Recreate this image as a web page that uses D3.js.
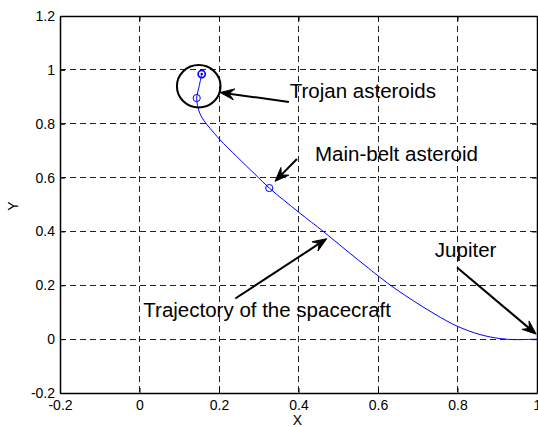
<!DOCTYPE html>
<html><head><meta charset="utf-8">
<script src="https://cdn.jsdelivr.net/npm/d3@7"></script>
<style>body{margin:0;background:#fff}svg{display:block}text{font-family:"Liberation Sans",Arial,sans-serif}</style>
</head><body><svg id="c" width="538" height="427"></svg>
<script>
const xTicks = [-0.2, 0, 0.2, 0.4, 0.6, 0.8, 1];
const yTicks = [-0.2, 0, 0.2, 0.4, 0.6, 0.8, 1, 1.2];
const xTickLabels = ["-0.2","0","0.2","0.4","0.6","0.8","1"];
const yTickLabels = ["-0.2","0","0.2","0.4","0.6","0.8","1","1.2"];
// trajectory
const trajX = [0.1565,0.1504,0.1439,0.1462,0.1522,0.1623,0.1774,0.2025,0.2445,0.2931,0.3265,0.3618,0.4038,0.4624,0.5170,0.5756,0.6050,0.6453,0.6888,0.7434,0.7995,0.8566,0.9069,0.9447,0.9748,1.0000];
const trajY = [0.9844,0.9410,0.8953,0.8667,0.8370,0.8110,0.7831,0.7404,0.6784,0.6086,0.5611,0.5176,0.4675,0.3999,0.3338,0.2640,0.2295,0.1853,0.1426,0.0925,0.0479,0.0171,0.0022,-0.0019,-0.0011,0.0000];
// circle markers
const markX = [0.1565, 0.1439, 0.3265];
const markY = [0.9844, 0.8953, 0.5611];
// big ring around Trojan asteroids (centre)
const ringX = [0.149];
const ringY = [0.939];
// annotation arrows: from -> to
const arrowFromX = [0.376, 0.396, 0.241, 0.799];
const arrowFromY = [0.881, 0.669, 0.151, 0.266];
const arrowToX = [0.203, 0.341, 0.471, 0.998];
const arrowToY = [0.916, 0.586, 0.373, 0.0185];
// annotation texts
const noteText = ["Trojan asteroids", "Main-belt asteroid", "Trajectory of the spacecraft", "Jupiter"];
const noteX = [0.378, 0.4415, 0.0096, 0.743];
const noteY = [0.895, 0.660, 0.083, 0.305];

const W = 538, H = 427;
const m = {l:60, r:1, t:16, b:34};
const svg = d3.select("#c");
const x = d3.scaleLinear().domain([-0.2, 1]).range([m.l, W - m.r]);
const y = d3.scaleLinear().domain([-0.2, 1.2]).range([H - m.b, m.t]);
const L = m.l, R = W - m.r, T = m.t, B = H - m.b;

// grid
const g = svg.append("g");
g.selectAll(".vg").data(xTicks.filter(v => v > -0.2 && v < 1)).enter().append("line")
  .attr("x1", d => x(d)).attr("x2", d => x(d)).attr("y1", T).attr("y2", B)
  .attr("stroke", "#222").attr("stroke-width", 1).attr("stroke-dasharray", "6,4").attr("shape-rendering","crispEdges");
g.selectAll(".hg").data(yTicks.filter(v => v > -0.2 && v < 1.2)).enter().append("line")
  .attr("y1", d => y(d)).attr("y2", d => y(d)).attr("x1", L).attr("x2", R)
  .attr("stroke", "#222").attr("stroke-width", 1).attr("stroke-dasharray", "6,4").attr("shape-rendering","crispEdges");

// axes
const xAxB = d3.axisBottom(x).tickValues(xTicks).tickFormat((d,i) => xTickLabels[i]).tickSizeInner(-5).tickSizeOuter(0).tickPadding(7);
const xAxT = d3.axisTop(x).tickValues(xTicks).tickFormat("").tickSizeInner(-5).tickSizeOuter(0);
const yAxL = d3.axisLeft(y).tickValues(yTicks).tickFormat((d,i) => yTickLabels[i]).tickSizeInner(-5).tickSizeOuter(0).tickPadding(5);
const yAxR = d3.axisRight(y).tickValues(yTicks).tickFormat("").tickSizeInner(-5).tickSizeOuter(0);
function style(sel){
  sel.select(".domain").attr("stroke","#000").attr("stroke-width",1.5);
  sel.selectAll(".tick line").attr("stroke","#000");
  sel.selectAll(".tick text").attr("fill","#000").style("font-size","14px").style("font-family",'"Liberation Sans",Arial,sans-serif');
}
svg.append("g").attr("transform",`translate(0,${B})`).call(xAxB).call(style);
svg.append("g").attr("transform",`translate(0,${T})`).call(xAxT).call(style);
svg.append("g").attr("transform",`translate(${L},0)`).call(yAxL).call(style);
svg.append("g").attr("transform",`translate(${R},0)`).call(yAxR).call(style);

// axis labels
svg.append("text").attr("x", (L+R)/2 - 1).attr("y", 425).attr("text-anchor","middle").style("font-size","14px").text("X");
svg.append("text").attr("transform", `translate(17.5,206) rotate(-90)`).attr("text-anchor","middle").style("font-size","14px").text("Y");

// trajectory
const pts = trajX.map((v,i) => [v, trajY[i]]);
svg.append("path").datum(pts)
  .attr("d", d3.line().x(d => x(d[0])).y(d => y(d[1])).curve(d3.curveCatmullRom.alpha(0.5)))
  .attr("fill","none").attr("stroke","#0000ff").attr("stroke-width",1);
// small blue point at origin
svg.append("circle").attr("cx", x(0)).attr("cy", y(0)).attr("r", 0.8).attr("fill","#0000ff");

// markers
svg.selectAll(".mk").data(markX.map((v,i)=>[v,markY[i]])).enter().append("circle")
  .attr("cx", d => x(d[0])).attr("cy", d => y(d[1])).attr("r", 3.6)
  .attr("fill","none").attr("stroke","#0000ff").attr("stroke-width", (d,i) => i===0 ? 1.6 : 1);
svg.append("circle").attr("cx", x(markX[0])).attr("cy", y(markY[0])).attr("r", 1.2).attr("fill","#0000ff");

// ring
svg.append("ellipse").attr("cx", x(ringX[0])).attr("cy", y(ringY[0])).attr("rx", 21.8).attr("ry", 21.2)
  .attr("fill","none").attr("stroke","#000").attr("stroke-width",2);

// arrows
arrowFromX.forEach((fx,i) => {
  const x1 = x(fx), y1 = y(arrowFromY[i]), x2 = x(arrowToX[i]), y2 = y(arrowToY[i]);
  const a = Math.atan2(y2-y1, x2-x1);
  const len = 14, hw = 5.5, notch = 9;
  const ux = Math.cos(a), uy = Math.sin(a), px = -uy, py = ux;
  svg.append("line").attr("x1",x1).attr("y1",y1).attr("x2",x2-ux*notch).attr("y2",y2-uy*notch)
    .attr("stroke","#000").attr("stroke-width",2);
  const p = [[x2,y2],[x2-ux*len+px*hw, y2-uy*len+py*hw],[x2-ux*notch, y2-uy*notch],[x2-ux*len-px*hw, y2-uy*len-py*hw]];
  svg.append("path").attr("d","M"+p.map(q=>q.join(",")).join("L")+"Z").attr("fill","#000").attr("stroke","#000").attr("stroke-width",1).attr("stroke-linejoin","miter");
});

// notes
svg.selectAll(".nt").data(noteText).enter().append("text")
  .attr("x", (d,i) => x(noteX[i])).attr("y", (d,i) => y(noteY[i]))
  .style("font-size","20.5px").attr("fill","#000").text(d => d);
</script></body></html>
